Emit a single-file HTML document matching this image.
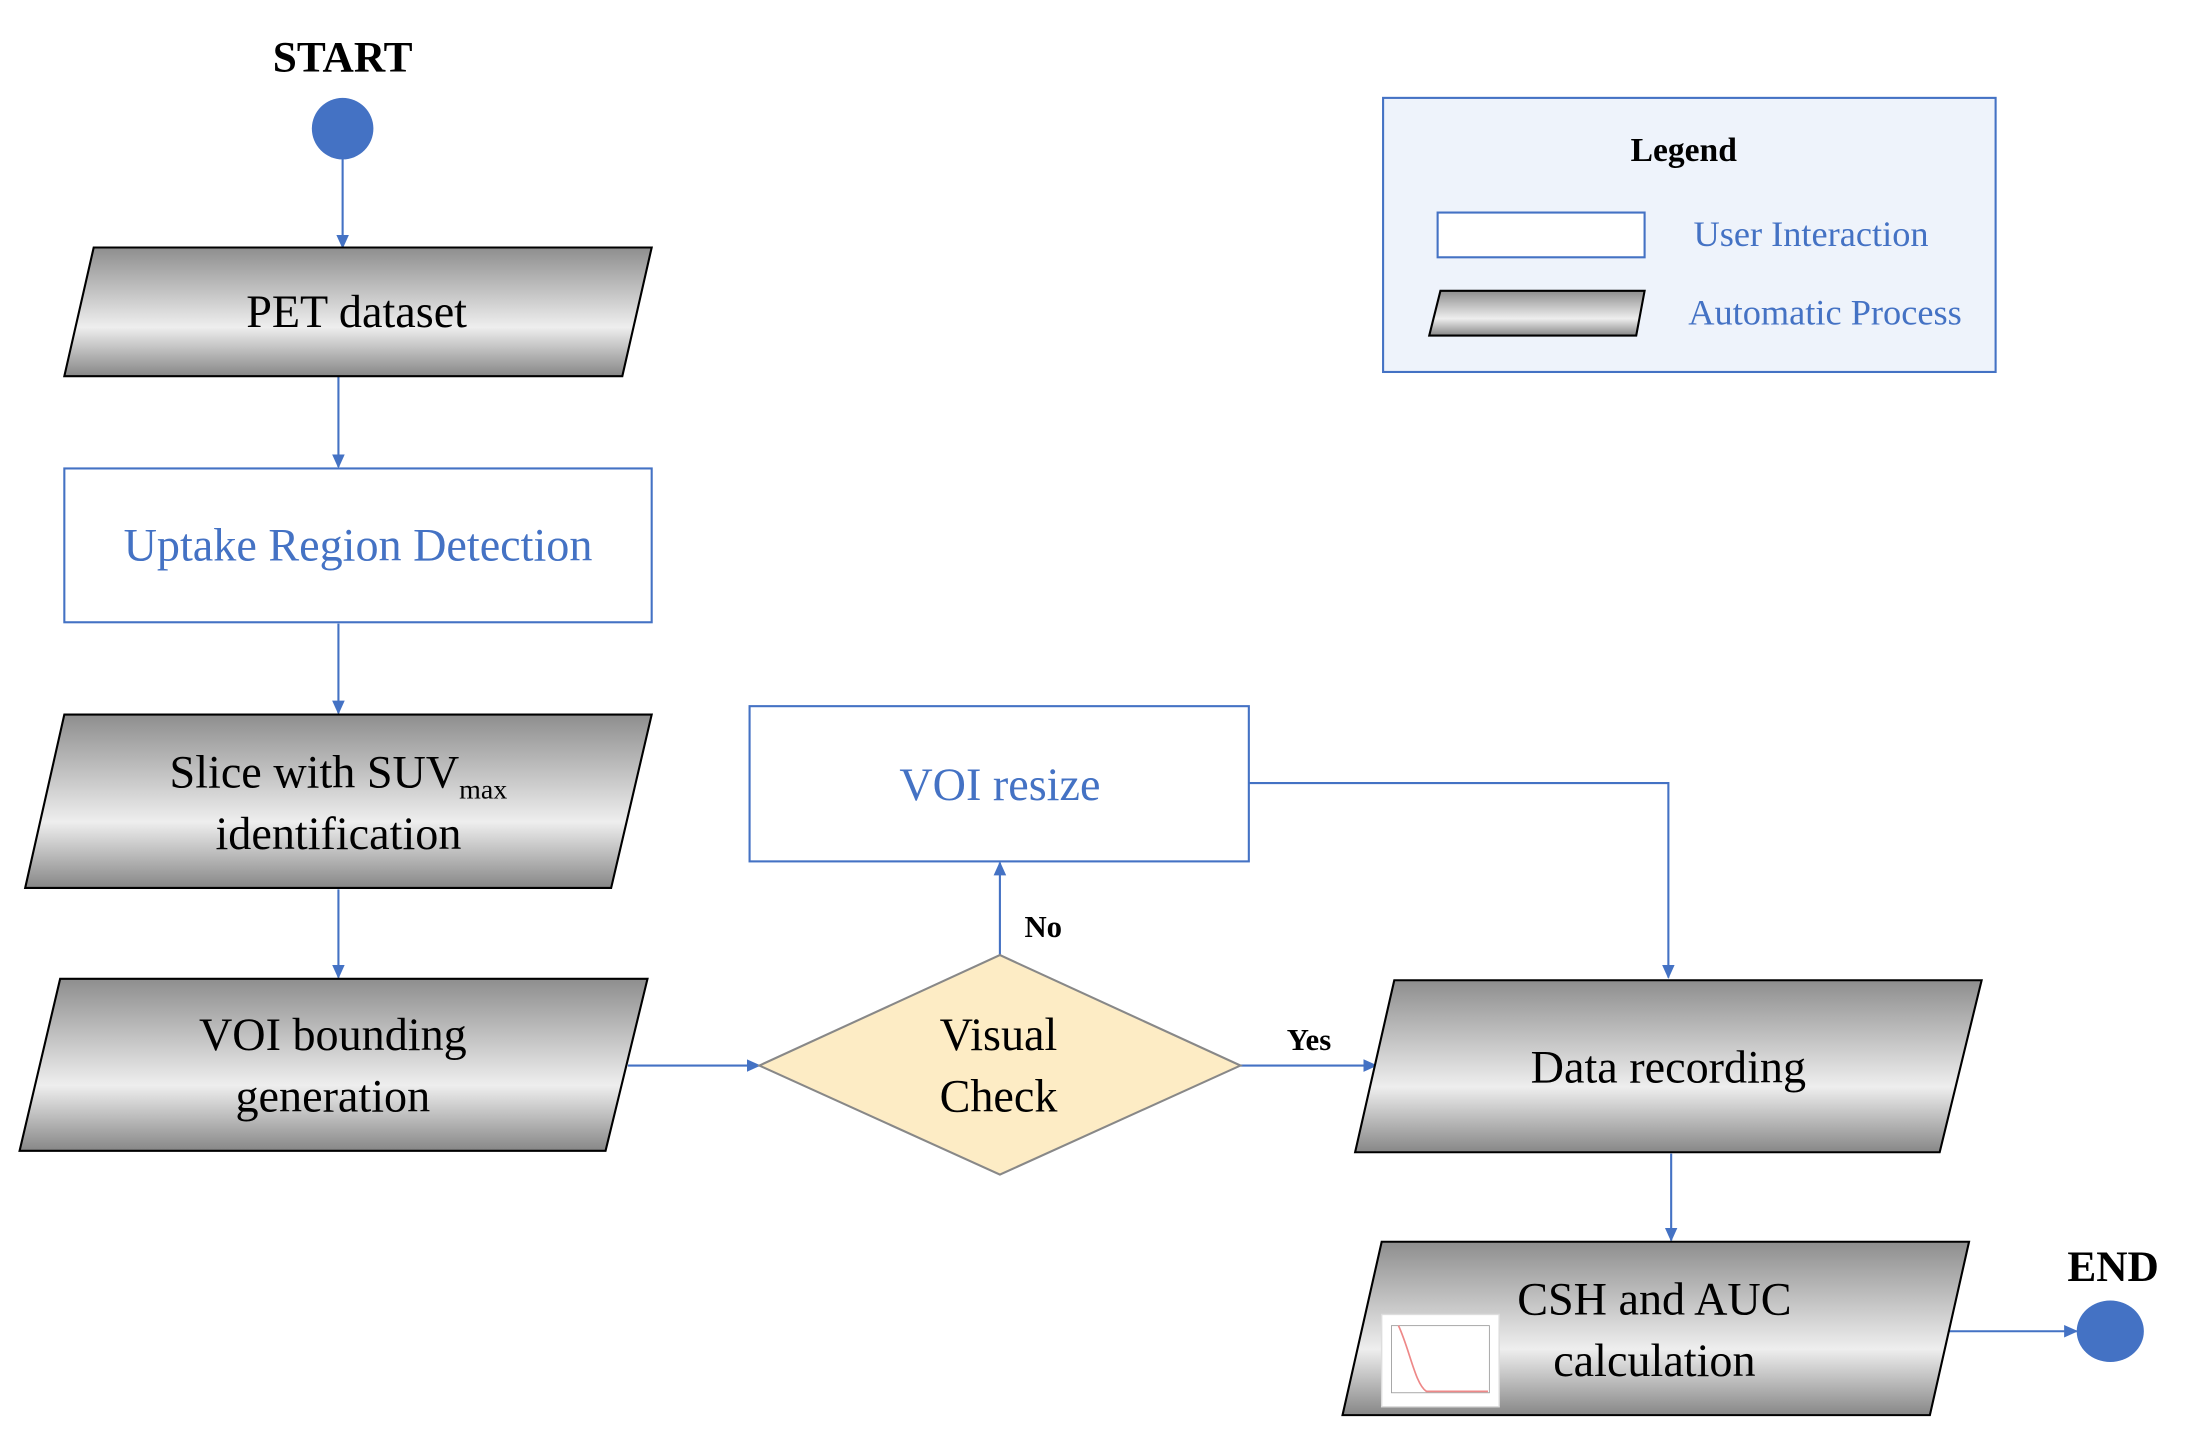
<!DOCTYPE html>
<html><head><meta charset="utf-8"><style>
html,body{margin:0;padding:0;background:#fff;}
svg{display:block;}
text{font-family:"Liberation Serif",serif;}
</style></head><body>
<svg width="2190" height="1448" viewBox="0 0 1566 1035.5" preserveAspectRatio="none" xmlns="http://www.w3.org/2000/svg">
<defs>
<linearGradient id="g" x1="0" y1="0" x2="0" y2="1">
<stop offset="0" stop-color="#8e8e8e"/>
<stop offset="0.35" stop-color="#c4c4c4"/>
<stop offset="0.62" stop-color="#eeeeee"/>
<stop offset="1" stop-color="#878787"/>
</linearGradient>
<marker id="a" markerWidth="10" markerHeight="10" refX="9" refY="5" orient="auto" markerUnits="userSpaceOnUse">
<path d="M0,0.5 L10,5 L0,9.5 Z" fill="#4472c4"/>
</marker>
</defs>
<g stroke="#4472c4" stroke-width="1.5" fill="none" marker-end="url(#a)">
<line x1="245" y1="113" x2="245" y2="177"/>
<line x1="242" y1="269" x2="242" y2="334"/>
<line x1="242" y1="446" x2="242" y2="510"/>
<line x1="242" y1="636" x2="242" y2="699"/>
<line x1="449" y1="762" x2="543" y2="762"/>
<line x1="715" y1="683" x2="715" y2="617"/>
<polyline points="893,560 1193,560 1193,699"/>
<line x1="887" y1="762" x2="984" y2="762"/>
<line x1="1195" y1="825" x2="1195" y2="887"/>
<line x1="1392" y1="952" x2="1485" y2="952"/>
</g>
<text x="245" y="51" font-size="31" font-weight="bold" text-anchor="middle">START</text>
<circle cx="245" cy="92" r="22" fill="#4472c4"/>
<text x="1511" y="916" font-size="31" font-weight="bold" text-anchor="middle">END</text>
<ellipse cx="1509" cy="952" rx="24" ry="22" fill="#4472c4"/>
<rect x="989" y="70" width="438" height="196" fill="#eef3fb" stroke="#4472c4" stroke-width="1.5"/>
<g stroke="#000" stroke-width="1.5" fill="url(#g)">
<polygon points="67,177 466,177 445,269 46,269"/>
<polygon points="46,511 466,511 437,635 18,635"/>
<polygon points="43,700 463,700 433,823 14,823"/>
<polygon points="997,701 1417,701 1387,824 969,824"/>
<polygon points="988,888 1408,888 1380,1012 960,1012"/>
<polygon points="1030,208 1176,208 1170,240 1022,240"/>
</g>
<rect x="46" y="335" width="420" height="110" fill="#fff" stroke="#4472c4" stroke-width="1.5"/>
<rect x="536" y="505" width="357" height="111" fill="#fff" stroke="#4472c4" stroke-width="1.5"/>
<polygon points="543,762 715,683 887,762 715,840" fill="#fdecc5" stroke="#888" stroke-width="1.5"/>
<g font-size="33" text-anchor="middle" fill="#000">
<text x="255" y="234">PET dataset</text>
<text x="242" y="563">Slice with SUV<tspan font-size="20" dy="8">max</tspan></text>
<text x="242" y="607">identification</text>
<text x="238" y="751">VOI bounding</text>
<text x="238" y="795">generation</text>
<text x="714" y="751">Visual</text>
<text x="714" y="795">Check</text>
<text x="1193" y="774">Data recording</text>
<text x="1183" y="940">CSH and AUC</text>
<text x="1183" y="984">calculation</text>
</g>
<g font-size="33" text-anchor="middle" fill="#4472c4">
<text x="256" y="401">Uptake Region Detection</text>
<text x="715" y="572">VOI resize</text>
</g>
<text x="746" y="670" font-size="22" font-weight="bold" text-anchor="middle">No</text>
<text x="936" y="751" font-size="22" font-weight="bold" text-anchor="middle">Yes</text>
<rect x="988" y="940" width="84" height="66" fill="#fff" stroke="#ddd"/>
<rect x="995" y="948" width="70" height="48" fill="none" stroke="#999" stroke-width="0.6"/>
<path d="M1000,948 C1008,965 1012,990 1020,995 L1064,995" fill="none" stroke="#e88" stroke-width="1.2"/>
<text x="1204" y="115" font-size="24" font-weight="bold" text-anchor="middle">Legend</text>
<rect x="1028" y="152" width="148" height="32" fill="#fff" stroke="#4472c4" stroke-width="1.5"/>
<text x="1295" y="176" font-size="26" fill="#4472c4" text-anchor="middle">User Interaction</text>
<text x="1305" y="232" font-size="26" fill="#4472c4" text-anchor="middle">Automatic Process</text>
</svg>
</body></html>
